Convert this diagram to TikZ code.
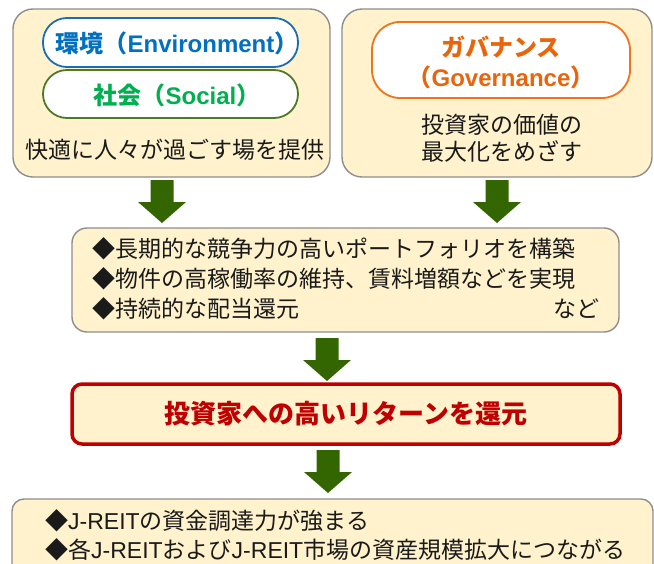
\documentclass[tikz,border=0pt]{standalone}
\usepackage{fontspec}
\setmainfont{Noto Sans CJK JP}
\newfontfamily\lat{Liberation Sans}
\usetikzlibrary{calc}
\definecolor{boxfill}{HTML}{FFF2CC}
\definecolor{boxline}{HTML}{8E8E8E}
\definecolor{esgblue}{HTML}{0070C0}
\definecolor{esgblueline}{HTML}{1A6DB5}
\definecolor{esggreen}{HTML}{00B050}
\definecolor{esggreenline}{HTML}{4E7A27}
\definecolor{govorange}{HTML}{E8650C}
\definecolor{govorangeline}{HTML}{F0731E}
\definecolor{retred}{HTML}{C00000}
\definecolor{arrowgreen}{HTML}{336600}
\definecolor{bodytext}{HTML}{1A1A1A}
\tikzset{
  panel/.style={draw=boxline, line width=1.4pt, fill=boxfill, rounded corners=#1, inner sep=0},
  pill/.style={fill=white, line width=1.8pt, rounded corners=#1, inner sep=0},
  bodytxt/.style={font=\fontsize{23}{27}\selectfont, text=bodytext, inner sep=0},
  pilltxt/.style={font=\fontsize{24}{30}\selectfont\bfseries, inner sep=0},
  fatarrow/.style={fill=arrowgreen, draw=none,
    to path={let \p1=(\tikztostart), \p2=(\tikztotarget) in
      (\x1-11.5pt,\y1) -- (\x1+11.5pt,\y1) -- (\x1+11.5pt,\y2+21pt) -- (\x1+24pt,\y2+21pt)
      -- (\x1,\y2) -- (\x1-24pt,\y2+21pt) -- (\x1-11.5pt,\y2+21pt) -- cycle}}
}
\begin{document}
\begin{tikzpicture}[x=1pt,y=-1pt]
\useasboundingbox (0,0) rectangle (654,563);
\clip (0,0) rectangle (654,563);
% top panels
\node[panel=20pt, minimum width=317pt, minimum height=168pt] (esg) at (171.5,93) {};
\node[panel=20pt, minimum width=310pt, minimum height=168pt] (gov) at (497,93) {};
\node[pill=24pt, draw=esgblueline, minimum width=255pt, minimum height=49pt] (envpill) at (170.5,42.5) {};
\node[pilltxt, text=esgblue] (envtxt) at (177,43) {環境（{\lat Environment}）};
\node[pill=24pt, draw=esggreenline, minimum width=255pt, minimum height=48pt] (socpill) at (170.5,94) {};
\node[pilltxt, text=esggreen] (soctxt) at (177,95) {社会（{\lat Social}）};
\node[bodytxt] (esgtxt) at (175,150) {快適に人々が過ごす場を提供};
\node[pill=28pt, draw=govorangeline, minimum width=258pt, minimum height=76pt] (govpill) at (501,60) {};
\node[pilltxt, text=govorange, align=center] (govtxt) at (501,62) {ガバナンス\\（{\lat Governance}）};
\node[bodytxt, align=center] (govbody) at (502,138.5) {投資家の価値の\\最大化をめざす};
% middle panel
\node[panel=15pt, minimum width=547pt, minimum height=104pt] (mid) at (345.5,280) {};
\node[bodytxt, font=\fontsize{23}{30}\selectfont, align=left, anchor=west] (midtxt) at (92,279)
  {◆長期的な競争力の高いポートフォリオを構築\\◆物件の高稼働率の維持、賃料増額などを実現\\◆持続的な配当還元};
\node[bodytxt, anchor=east] (nado) at (600,309) {など};
% return panel
\node[draw=retred, line width=3.5pt, fill=boxfill, rounded corners=10pt, minimum width=548pt, minimum height=60pt, inner sep=0] (ret) at (346,414) {};
\node[font=\fontsize{26}{30}\selectfont\bfseries, text=retred, inner sep=0] (rettxt) at (ret.center) {投資家への高いリターンを還元};
% bottom panel
\node[panel=12pt, minimum width=641pt, minimum height=101pt] (bot) at (332.5,549.5) {};
\node[bodytxt, font=\fontsize{23}{29}\selectfont, align=left, anchor=west] (bottxt) at (45,535.5)
  {◆{\lat J-REIT}の資金調達力が強まる\\◆各{\lat J-REIT}および{\lat J-REIT}市場の資産規模拡大につながる};
% arrows
\coordinate (a1s) at (162,180); \coordinate (a1e) at (162,223);
\coordinate (a2s) at (497,180); \coordinate (a2e) at (497,223);
\coordinate (a3s) at (327,338); \coordinate (a3e) at (327,381);
\coordinate (a4s) at (328,450); \coordinate (a4e) at (328,493);
\path[fatarrow] (a1s) to (a1e);
\path[fatarrow] (a2s) to (a2e);
\path[fatarrow] (a3s) to (a3e);
\path[fatarrow] (a4s) to (a4e);
\end{tikzpicture}
\end{document}
